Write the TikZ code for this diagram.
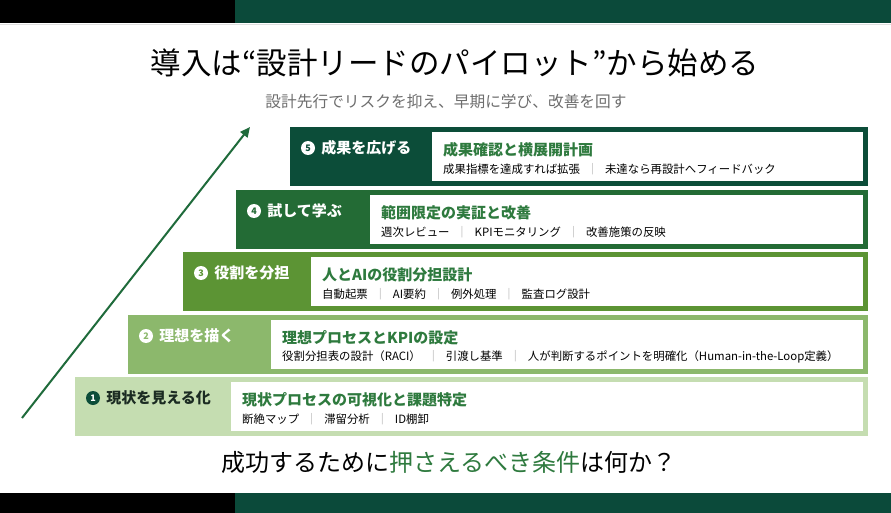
\documentclass[tikz,border=0pt]{standalone}
\usepackage{fontspec}
\setmainfont{Noto Sans CJK JP}
\usetikzlibrary{arrows.meta,positioning}

\definecolor{bargreen}{HTML}{0B4A3A}
\definecolor{step5}{HTML}{0C4D39}
\definecolor{step4}{HTML}{236B35}
\definecolor{step3}{HTML}{5C9434}
\definecolor{step2}{HTML}{8CB86C}
\definecolor{step1}{HTML}{C5DDB1}
\definecolor{titlegreen}{HTML}{2E7A3E}
\definecolor{risegreen}{HTML}{1F6B3B}
\definecolor{subgray}{HTML}{6E6E6E}
\definecolor{sepgray}{HTML}{A0A0A0}
\definecolor{labeldark}{HTML}{1B2B22}

\newcommand\sepbar{\hspace{0.6em}{\color{sepgray}｜}\hspace{0.6em}}

\tikzset{
  stepbar/.style={anchor=north west, minimum height=59pt, inner sep=0pt, outer sep=0pt},
  card/.style={fill=white, anchor=north west, minimum height=49pt, inner sep=0pt, outer sep=0pt},
  steplabel/.style={anchor=west, inner sep=0pt, font=\fontsize{15}{17}\selectfont\bfseries},
  numdot/.style={circle, minimum size=14pt, inner sep=0pt, font=\fontsize{9}{9}\selectfont\bfseries},
  cardtitle/.style={anchor=west, inner sep=0pt, text=titlegreen, font=\fontsize{15}{17}\selectfont\bfseries},
  cardsub/.style={anchor=west, inner sep=0pt, font=\fontsize{11.4}{13}\selectfont},
  riser/.style={draw=risegreen, line width=2pt, -{Triangle[length=10pt,width=9pt]}},
}

\begin{document}
\begin{tikzpicture}[x=1pt, y=-1pt]
\useasboundingbox (0,0) rectangle (891,513);
\fill[white] (0,0) rectangle (891,513);

%Kehys
\fill[black] (0,0) rectangle (235,23);
\fill[bargreen] (235,0) rectangle (891,23);
\draw[gray!25] (0,24) -- (891,24);
\fill[black] (0,493) rectangle (235,513);
\fill[bargreen] (235,493) rectangle (891,513);

%Otsikot
\node[font=\fontsize{30.5}{32}\selectfont] (title) at (455,63) {導入は“設計リードのパイロット”から始める};
\node[text=subgray, font=\fontsize{15.7}{18}\selectfont] (subtitle) at (446,102) {設計先行でリスクを抑え、早期に学び、改善を回す};

%Nousu
\coordinate (rise0) at (22,418);
\coordinate (rise1) at (250,127);
\draw[riser] (rise0) -- (rise1);

%Portaat
\foreach \n/\x/\y/\cx/\col/\dotc/\num/\lc/\lab/\ttl/\sub in {
  5/290/127/432/step5/white/step5/white/成果を広げる/成果確認と横展開計画/{成果指標を達成すれば拡張\sepbar 未達なら再設計へフィードバック},
  4/236/190/370/step4/white/step4/white/試して学ぶ/範囲限定の実証と改善/{週次レビュー\sepbar KPIモニタリング\sepbar 改善施策の反映},
  3/183/252/311/step3/white/step3/white/役割を分担/人とAIの役割分担設計/{自動起票\sepbar AI要約\sepbar 例外処理\sepbar 監査ログ設計},
  2/128/315/271/step2/white/step2/white/理想を描く/理想プロセスとKPIの設定/{役割分担表の設計（RACI）\sepbar 引渡し基準\sepbar 人が判断するポイントを明確化（Human-in-the-Loop定義）},
  1/75/377/231/step1/step5/white/labeldark/現状を見える化/現状プロセスの可視化と課題特定/{断絶マップ\sepbar 滞留分析\sepbar ID棚卸}}
{
  \node[stepbar, fill=\col, minimum width={868-\x}] (s\n) at (\x,\y) {};
  \node[card, minimum width={863-\cx}] (c\n) at (\cx,\y+5) {};
  \node[numdot, fill=\dotc, text=\num] (d\n) at (\x+18,\y+21) {\n};
  \node[steplabel, text=\lc, right=6pt of d\n] (l\n) {\lab};
  \node[cardtitle] (t\n) at (\cx+11,\y+23) {\ttl};
  \node[cardsub] (u\n) at (\cx+11,\y+42) {\sub};
}

%Kysymys
\node[font=\fontsize{24}{26}\selectfont] (question) at (449,462) {成功するために{\color{titlegreen}押さえるべき条件}は何か？};

\end{tikzpicture}
\end{document}
